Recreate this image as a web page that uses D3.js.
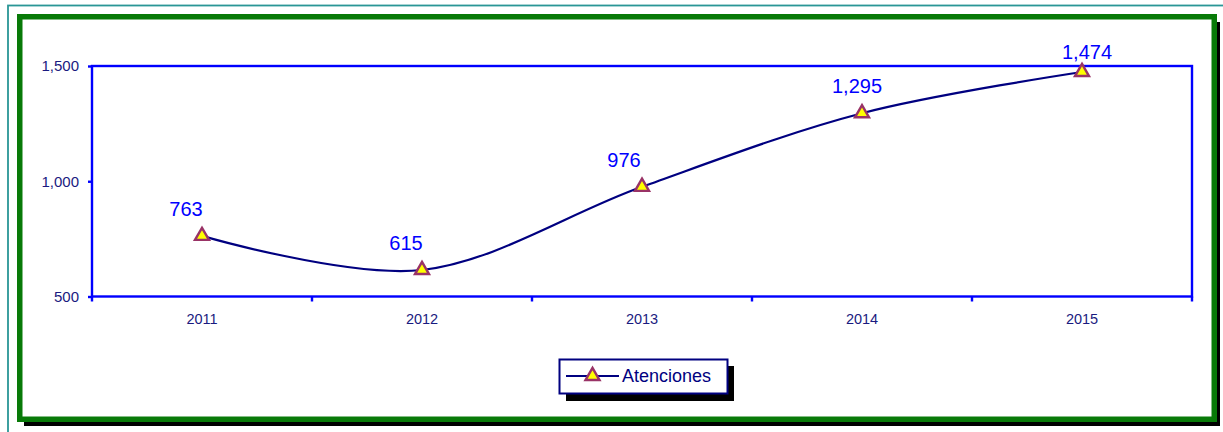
<!DOCTYPE html>
<html>
<head>
<meta charset="utf-8">
<script src="https://cdn.jsdelivr.net/npm/d3@7"></script>
<style>
  html, body { margin: 0; padding: 0; background: #ffffff; }
  svg { display: block; }
  text { font-family: "Liberation Sans", Arial, sans-serif; }
</style>
</head>
<body>
<svg id="chart" width="1223" height="432"></svg>
<script>
// ---- data ----
const categories = ["2011", "2012", "2013", "2014", "2015"];
const atenciones = [763, 615, 976, 1295, 1474];
const yTicks = [500, 1000, 1500];
const seriesName = "Atenciones";
// label layout (offsets from point, px)
const labelDx = [-16, -16, -18, -5, 5];
const labelDy = [-20, -20, -20, -20, -13];

(function () {
const svg = d3.select("#chart");

// outer teal frame
svg.append("rect").attr("x", 8).attr("y", 5.5).attr("width", 1240).attr("height", 500)
  .attr("fill", "none").attr("stroke", "#2a9696").attr("stroke-width", 1.8);

// shadow + green frame
svg.append("rect").attr("x", 24).attr("y", 22).attr("width", 1196).attr("height", 404).attr("fill", "#000");
svg.append("rect").attr("x", 19.75).attr("y", 16.75).attr("width", 1194.5).attr("height", 402.5)
  .attr("fill", "#ffffff").attr("stroke", "#087a08").attr("stroke-width", 5.5);

// plot area
const pL = 92, pR = 1192, pT = 66, pB = 296.5;
const x = d3.scaleBand().domain(categories).range([pL, pR]);
const y = d3.scaleLinear().domain([500, 1500]).range([pB, pT]);

// y axis
const yAxis = d3.axisLeft(y).tickValues(yTicks).tickSize(4).tickPadding(9).tickFormat(d3.format(","));
const gy = svg.append("g").attr("transform", `translate(${pL},0)`).call(yAxis);
gy.select(".domain").remove();
gy.selectAll(".tick line").attr("stroke", "#0000ff").attr("stroke-width", 2.4);
gy.selectAll(".tick text").attr("fill", "#1a1a80").style("font-size", "15px")
  .style("font-family", '"Liberation Sans", Arial, sans-serif');

// x axis
const xAxis = d3.axisBottom(x).tickSize(0).tickPadding(17);
const gx = svg.append("g").attr("transform", `translate(0,${pB})`).call(xAxis);
gx.select(".domain").remove();
gx.selectAll(".tick text").attr("fill", "#1a1a80").style("font-size", "14.5px")
  .style("font-family", '"Liberation Sans", Arial, sans-serif');
// boundary ticks
const bounds = categories.map(c => x(c)).concat([x(categories[categories.length - 1]) + x.bandwidth()]);
svg.append("g").selectAll("line").data(bounds).join("line")
  .attr("x1", d => d).attr("x2", d => d).attr("y1", pB).attr("y2", pB + 5)
  .attr("stroke", "#0000ff").attr("stroke-width", 2.4);

// plot border
svg.append("rect").attr("x", pL).attr("y", pT).attr("width", pR - pL).attr("height", pB - pT)
  .attr("fill", "none").attr("stroke", "#0000ff").attr("stroke-width", 2.4);

// line
const cx = (d, i) => x(categories[i]) + x.bandwidth() / 2;
const line = d3.line().x((d, i) => cx(d, i)).y(d => y(d)).curve(d3.curveCardinal.tension(0));
svg.append("path").datum(atenciones).attr("d", line)
  .attr("fill", "none").attr("stroke", "#000080").attr("stroke-width", 2.2);

// markers
const tri = d3.symbol().type(d3.symbolTriangle).size(85);
svg.append("g").selectAll("path").data(atenciones).join("path")
  .attr("d", tri)
  .attr("transform", (d, i) => `translate(${cx(d, i)},${y(d)})`)
  .attr("fill", "#ffff00").attr("stroke", "#993366").attr("stroke-width", 2.4);

// data labels
svg.append("g").selectAll("text").data(atenciones).join("text")
  .attr("x", (d, i) => cx(d, i) + labelDx[i])
  .attr("y", (d, i) => y(d) + labelDy[i])
  .attr("text-anchor", "middle")
  .attr("fill", "#0000ff").style("font-size", "20px")
  .text(d => d3.format(",")(d));

// legend
const lg = svg.append("g");
lg.append("rect").attr("x", 566).attr("y", 366).attr("width", 168).attr("height", 35).attr("fill", "#000");
lg.append("rect").attr("x", 559.5).attr("y", 359.5).attr("width", 168).attr("height", 34)
  .attr("fill", "#ffffff").attr("stroke", "#000080").attr("stroke-width", 2);
lg.append("line").attr("x1", 566).attr("x2", 619).attr("y1", 376).attr("y2", 376)
  .attr("stroke", "#000080").attr("stroke-width", 2.2);
lg.append("path").attr("d", tri).attr("transform", "translate(592.5,376)")
  .attr("fill", "#ffff00").attr("stroke", "#993366").attr("stroke-width", 2.4);
lg.append("text").attr("x", 622).attr("y", 382).attr("fill", "#000080").style("font-size", "18px")
  .text(seriesName);
})();
</script>
</body>
</html>
